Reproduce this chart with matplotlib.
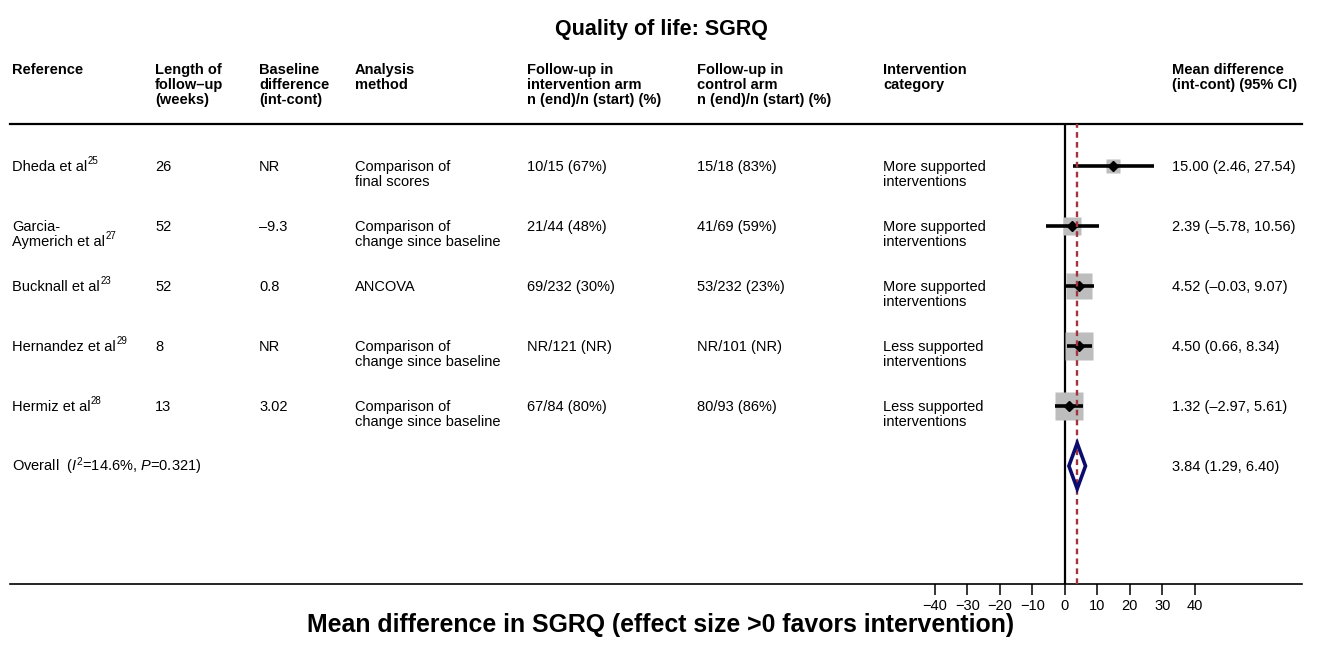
import matplotlib
matplotlib.use('Agg')
import matplotlib.pyplot as plt
import matplotlib.transforms as mtransforms
from matplotlib.patches import Polygon
import numpy as np

plt.rcParams['font.family'] = ['Liberation Sans', 'DejaVu Sans']
plt.rcParams['mathtext.fontset'] = 'custom'
plt.rcParams['mathtext.rm'] = 'Liberation Sans'
plt.rcParams['mathtext.it'] = 'Liberation Sans:italic'
plt.rcParams['mathtext.bf'] = 'Liberation Sans:bold'

# данные
headers = ["Reference", "Length of\nfollow\u2013up\n(weeks)", "Baseline\ndifference\n(int-cont)",
           "Analysis\nmethod", "Follow-up in\nintervention arm\nn (end)/n (start) (%)",
           "Follow-up in\ncontrol arm\nn (end)/n (start) (%)", "Intervention\ncategory",
           "Mean difference\n(int-cont) (95% CI)"]
refs = ["Dheda et al", "Garcia-\nAymerich et al", "Bucknall et al",
        "Hernandez et al", "Hermiz et al"]
cites = ["25", "27", "23", "29", "28"]
follow_up = ["26", "52", "52", "8", "13"]
baseline = ["NR", "\u20139.3", "0.8", "NR", "3.02"]
method = ["Comparison of\nfinal scores", "Comparison of\nchange since baseline", "ANCOVA",
          "Comparison of\nchange since baseline", "Comparison of\nchange since baseline"]
int_arm = ["10/15 (67%)", "21/44 (48%)", "69/232 (30%)", "NR/121 (NR)", "67/84 (80%)"]
ctrl_arm = ["15/18 (83%)", "41/69 (59%)", "53/232 (23%)", "NR/101 (NR)", "80/93 (86%)"]
category = ["More supported\ninterventions", "More supported\ninterventions",
            "More supported\ninterventions", "Less supported\ninterventions",
            "Less supported\ninterventions"]
md = [15.00, 2.39, 4.52, 4.50, 1.32]
lo = [2.46, -5.78, -0.03, 0.66, -2.97]
hi = [27.54, 10.56, 9.07, 8.34, 5.61]
weights = [6.3, 12.1, 25.2, 29.2, 27.2]
overall = [3.84, 1.29, 6.40]
overall_label = r"Overall  ($\mathit{I}^{2}$=14.6%, $\mathit{P}$=0.321)"
ticks = [-40, -30, -20, -10, 0, 10, 20, 30, 40]

W, H = 1324, 650
col_px = [12, 155, 259, 355, 527, 697, 883, 1172]
line_px = 15  # шаг строк

def fmt(m, l, h):
    return f"{m:.2f} ({l:.2f}, {h:.2f})".replace('-', '\u2013')

fig = plt.figure(figsize=(W / 100, H / 100), dpi=100)
ax = fig.add_axes([10 / W, (H - 584) / H, 1292 / W, 460 / H])
ax.set_xlim((10 - 1064.7) / 3.25, (1302 - 1064.7) / 3.25)
ax.set_ylim(6.967, -0.7)
for s in ['left', 'right']:
    ax.spines[s].set_visible(False)
ax.spines['top'].set_linewidth(1.6)
ax.spines['bottom'].set_linewidth(1.2)
ax.set_yticks([])
ax.set_xticks(ticks)
ax.tick_params(axis='x', length=8, width=1.1, pad=2.5, labelsize=10.5)

ax.axvline(0, color='black', lw=1.6, zorder=1)
ax.axvline(overall[0], color='#a0353f', lw=1.7, linestyle=(0, (2.4, 1.8)), zorder=4)

rows = np.arange(len(md))
sq = 5.3 * np.sqrt(weights)
for i in rows:
    ax.plot(md[i], i, marker='s', ms=sq[i] * 0.72, color='#bdbdbd', mec='none', zorder=2)
    ax.plot([lo[i], hi[i]], [i, i], color='black', lw=2.6, solid_capstyle='butt', zorder=3)
    ax.plot(md[i], i, marker='D', ms=5.2, color='black', zorder=3)

yo = len(md)
diamond = Polygon([[overall[1], yo], [overall[0], yo - 0.38], [overall[2], yo], [overall[0], yo + 0.38]],
                  closed=True, facecolor='none', edgecolor='#0c0c6e', lw=2.6, zorder=5)
ax.add_patch(diamond)

trans = mtransforms.blended_transform_factory(fig.transFigure, ax.transData)
fs = 10.5

def cell(x_px, row, s):
    t = None
    for k, line in enumerate(s.split('\n')):
        t = ax.text(x_px / W, row + (5.3 + line_px * k) / 60, line, transform=trans,
                    fontsize=fs, va='baseline', ha='left')
    return t

cols = [refs, follow_up, baseline, method, int_arm, ctrl_arm, category,
        [fmt(md[i], lo[i], hi[i]) for i in rows]]
for c, values in enumerate(cols):
    for i, v in enumerate(values):
        last = cell(col_px[c], i, v)
        if c == 0:
            # надстрочная ссылка
            ax.annotate(cites[i], xy=(1, 0), xycoords=last, xytext=(0.3, 7.2),
                        textcoords='offset points', fontsize=7, va='baseline', ha='left')
cell(col_px[0], yo, overall_label)
cell(col_px[7], yo, fmt(*overall))

for c, h in enumerate(headers):
    for k, line in enumerate(h.split('\n')):
        fig.text(col_px[c] / W, 1 - (74 + line_px * k) / H, line, fontsize=fs,
                 fontweight='bold', va='baseline', ha='left')

fig.text(661 / W, 1 - 30 / H, "Quality of life: SGRQ", fontsize=15.5, fontweight='bold',
         ha='center', va='center')
fig.text(661 / W, 1 - 625 / H, "Mean difference in SGRQ (effect size >0 favors intervention)",
         fontsize=17.9, fontweight='bold', ha='center', va='center')

fig.savefig('out.png', dpi=100)
